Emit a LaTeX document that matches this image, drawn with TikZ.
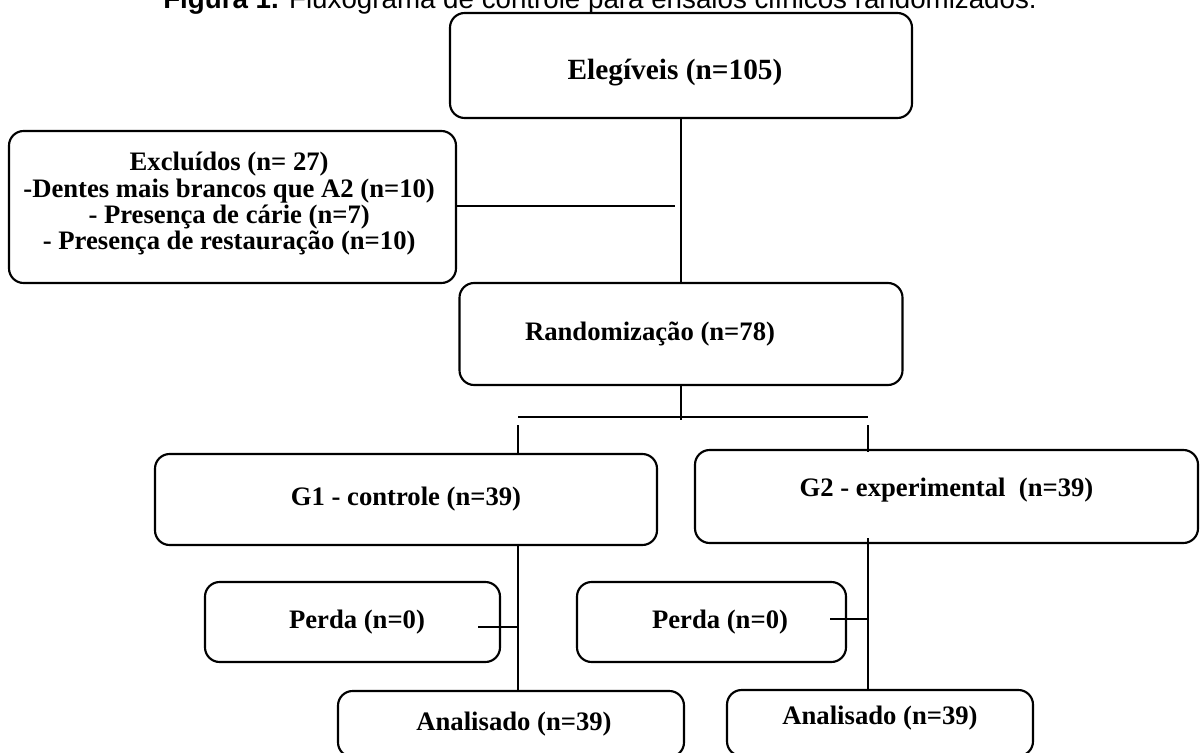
\documentclass[tikz,border=0pt]{standalone}
\usepackage{fontspec}
\setmainfont{Liberation Serif}
\newfontfamily\titlefont{Liberation Sans}
\usetikzlibrary{calc}
\newcommand{\shiftv}[2]{\raisebox{#1}[\height][\depth]{#2}}
\begin{document}
\begin{tikzpicture}[x=0.75pt,y=-0.75pt,
  bx/.style 2 args={draw, line width=1.6pt, rounded corners=11pt, inner sep=0pt,
    minimum width=#1*0.75pt, minimum height=#2*0.75pt,
    font=\bfseries\fontsize{20}{19.3}\selectfont},
  conn/.style={line width=1.4pt},
  thinconn/.style={line width=0.9pt},
  titletext/.style={anchor=base west, inner sep=0pt, font=\titlefont\fontsize{20.8}{24}\selectfont}
]
\clip (0,0) rectangle (1201,752);
\fill[white] (0,0) rectangle (1201,752);

\node[titletext] (title) at (163,9) {\textbf{Figura 1.} Fluxograma de controle para ensaios clínicos randomizados.};

\node[bx={462}{105}, font=\bfseries\fontsize{22}{24}\selectfont] (eleg) at (681,65.5) {\hspace*{-9pt}\shiftv{-5.6pt}{Elegíveis (n=105)}};
\node[bx={447}{152}, font=\bfseries\fontsize{20}{19.4}\selectfont] (excl) at (232.5,207) {\hspace*{-5pt}\shiftv{1.5pt}{\begin{tabular}{@{}c@{}}Excluídos (n= 27)\\-Dentes mais brancos que A2 (n=10)\\- Presença de cárie (n=7)\\- Presença de restauração (n=10)\end{tabular}}};
\node[bx={443}{102}] (rand) at (681,334) {\hspace*{-46.5pt}Randomização (n=78)};
\node[bx={502}{91}] (g1) at (406,499.5) {G1 - controle (n=39)};
\node[bx={503}{93}] (g2) at (946.5,496.5) {\shiftv{4.9pt}{G2 - experimental \ (n=39)}};
\node[bx={295}{80}] (p1) at (352.5,622) {\hspace*{6.75pt}Perda (n=0)};
\node[bx={269}{80}] (p2) at (711.5,622) {\hspace*{12.75pt}Perda (n=0)};
\node[bx={346}{66}] (an1) at (511,724) {\hspace*{4.5pt}Analisado (n=39)};
\node[bx={306}{66}] (an2) at (880,723) {\shiftv{3.75pt}{Analisado (n=39)}};

% connectors
\coordinate (jA) at (584,206);
\coordinate (jB) at (675,206);
\draw[thinconn] (excl.east |- jA) -- (jA);
\draw[conn] (jA) -- (jB);
\draw[conn] (eleg.south) -- (rand.north);
\coordinate (split) at (681,420);
\draw[conn] (rand.south) -- (split);
\coordinate (brL) at (518,417);
\coordinate (brR) at (868,417);
\draw[conn] (brL) -- (brR);
\coordinate (dL) at (518,425);
\coordinate (dR) at (868,425);
\draw[conn] (dL) -- (dL |- g1.north);
\draw[conn] (dR) -- ($(dR |- g2.north)+(0,3)$);
\draw[conn] (dL |- g1.south) -- (dL |- an1.north);
\draw[conn] ($(dR |- g2.south)+(0,-6)$) -- (dR |- an2.north);
\coordinate (s1) at ($(p1.east)+(-23,5)$);
\coordinate (s2) at ($(p2.east)+(-17,-3)$);
\draw[conn] (s1) -- (s1 -| dL);
\draw[conn] (s2) -- (s2 -| dR);
\end{tikzpicture}
\end{document}
